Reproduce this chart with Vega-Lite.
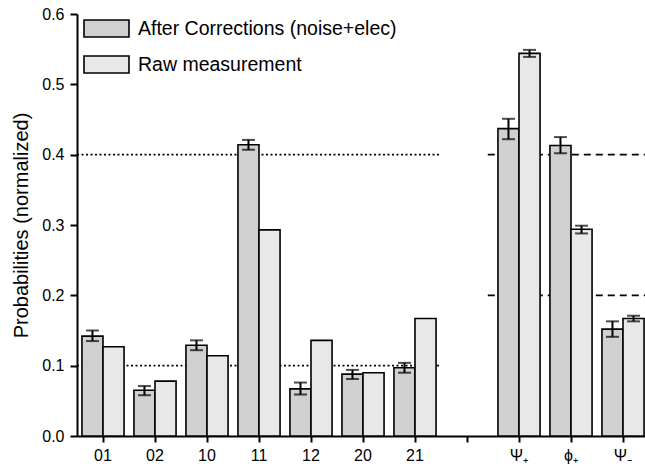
{
  "$schema": "https://vega.github.io/schema/vega-lite/v6.json",
  "autosize": "none",
  "padding": {"left": 77, "top": 14, "right": 0, "bottom": 36},
  "width": 568,
  "height": 422,
  "background": "white",
  "config": {
    "view": {"stroke": null},
    "font": "Liberation Sans",
    "axis": {"labelFont": "Liberation Sans", "titleFont": "Liberation Sans", "labelColor": "black", "titleColor": "black", "domainColor": "black", "tickColor": "black", "grid": false, "labelFontSize": 16, "tickWidth": 2, "domainWidth": 2},
    "axisX": {"labelPadding": 5, "tickSize": 6},
    "axisY": {"labelPadding": 6, "tickSize": 7},
    "legend": {"labelFont": "Liberation Sans"}
  },
  "datasets": {
    "bars": [
      {"cat": "01", "series": "After Corrections (noise+elec)", "value": 0.142, "lo": 0.135, "hi": 0.150},
      {"cat": "02", "series": "After Corrections (noise+elec)", "value": 0.065, "lo": 0.058, "hi": 0.071},
      {"cat": "10", "series": "After Corrections (noise+elec)", "value": 0.129, "lo": 0.122, "hi": 0.136},
      {"cat": "11", "series": "After Corrections (noise+elec)", "value": 0.414, "lo": 0.407, "hi": 0.421},
      {"cat": "12", "series": "After Corrections (noise+elec)", "value": 0.067, "lo": 0.059, "hi": 0.076},
      {"cat": "20", "series": "After Corrections (noise+elec)", "value": 0.088, "lo": 0.081, "hi": 0.094},
      {"cat": "21", "series": "After Corrections (noise+elec)", "value": 0.097, "lo": 0.090, "hi": 0.104},
      {"cat": "Ψ₊", "series": "After Corrections (noise+elec)", "value": 0.437, "lo": 0.422, "hi": 0.451},
      {"cat": "ϕ₊", "series": "After Corrections (noise+elec)", "value": 0.413, "lo": 0.402, "hi": 0.425},
      {"cat": "Ψ₋", "series": "After Corrections (noise+elec)", "value": 0.152, "lo": 0.141, "hi": 0.163},
      {"cat": "01", "series": "Raw measurement", "value": 0.127, "lo": null, "hi": null},
      {"cat": "02", "series": "Raw measurement", "value": 0.078, "lo": null, "hi": null},
      {"cat": "10", "series": "Raw measurement", "value": 0.114, "lo": null, "hi": null},
      {"cat": "11", "series": "Raw measurement", "value": 0.293, "lo": null, "hi": null},
      {"cat": "12", "series": "Raw measurement", "value": 0.136, "lo": null, "hi": null},
      {"cat": "20", "series": "Raw measurement", "value": 0.090, "lo": null, "hi": null},
      {"cat": "21", "series": "Raw measurement", "value": 0.167, "lo": null, "hi": null},
      {"cat": "Ψ₊", "series": "Raw measurement", "value": 0.544, "lo": 0.539, "hi": 0.549},
      {"cat": "ϕ₊", "series": "Raw measurement", "value": 0.294, "lo": 0.288, "hi": 0.299},
      {"cat": "Ψ₋", "series": "Raw measurement", "value": 0.167, "lo": 0.163, "hi": 0.171}
    ],
    "refs": [
      {"x0": 0, "x1": 7, "y": 0.4, "kind": "dotted"},
      {"x0": 0, "x1": 7, "y": 0.1, "kind": "dotted"},
      {"x0": 7.9, "x1": 11, "y": 0.4, "kind": "dashed"},
      {"x0": 7.9, "x1": 11, "y": 0.2, "kind": "dashed"}
    ]
  },
  "layer": [
    {
      "data": {"name": "refs"},
      "layer": [
        {
          "transform": [{"filter": "datum.kind == 'dotted'"}],
          "mark": {"type": "rule", "strokeDash": [2, 2.5], "strokeWidth": 1.8, "color": "black"},
          "encoding": {
            "x": {"field": "x0", "type": "quantitative", "scale": {"domain": [0, 11], "range": [0, 572], "nice": false, "zero": false}, "axis": null},
            "x2": {"field": "x1"},
            "y": {"field": "y", "type": "quantitative", "scale": {"domain": [0, 0.6], "nice": false}, "axis": null}
          }
        },
        {
          "transform": [{"filter": "datum.kind == 'dashed'"}],
          "mark": {"type": "rule", "strokeDash": [7, 5], "strokeWidth": 1.7, "color": "black"},
          "encoding": {
            "x": {"field": "x0", "type": "quantitative", "scale": {"domain": [0, 11], "range": [0, 572], "nice": false, "zero": false}, "axis": null},
            "x2": {"field": "x1"},
            "y": {"field": "y", "type": "quantitative", "scale": {"domain": [0, 0.6], "nice": false}, "axis": null}
          }
        }
      ]
    },
    {
      "data": {"name": "bars"},
      "layer": [
        {
          "mark": {"type": "bar", "stroke": "black", "strokeWidth": 1.6, "strokeJoin": "miter"},
          "encoding": {
            "x": {
              "field": "cat", "type": "nominal",
              "scale": {"domain": ["01", "02", "10", "11", "12", "20", "21", " ", "Ψ₊", "ϕ₊", "Ψ₋"], "range": [0, 572], "paddingInner": 0.19, "paddingOuter": 0.095},
              "axis": {"title": null, "labelAngle": 0, "labelFontSize": 16, "labelPadding": 5, "tickSize": 6, "labelColor": "black"}
            },
            "xOffset": {"field": "series", "type": "nominal", "scale": {"domain": ["After Corrections (noise+elec)", "Raw measurement"]}},
            "y": {
              "field": "value", "type": "quantitative",
              "scale": {"domain": [0, 0.6], "nice": false},
              "axis": {"orient": "left", "title": "Probabilities (normalized)", "titleFontSize": 20, "titleFontWeight": "normal", "titlePadding": 10,
                "values": [0, 0.05, 0.1, 0.15, 0.2, 0.25, 0.3, 0.35, 0.4, 0.45, 0.5, 0.55, 0.6],
                "labelExpr": "round(datum.value * 100) % 10 == 0 ? format(datum.value, '.1f') : ''",
                "tickSize": {"condition": {"test": "round(datum.value * 100) % 10 != 0", "value": 4}, "value": 7},
                "labelFontSize": 16, "labelPadding": 6}
            },
            "fill": {
              "field": "series", "type": "nominal",
              "scale": {"domain": ["After Corrections (noise+elec)", "Raw measurement"], "range": ["#d0d0d0", "#e8e8e8"]},
              "legend": {"title": null, "orient": "none", "legendX": 6, "legendY": -9, "labelFontSize": 19.5, "labelLimit": 500, "labelColor": "black", "symbolType": "M-1,-0.38H1V0.38H-1Z", "symbolSize": 2025, "symbolStrokeColor": "black", "symbolStrokeWidth": 1.6, "rowPadding": -19.5, "labelOffset": 8}
            }
          }
        },
        {
          "transform": [{"filter": "datum.lo != null"}],
          "mark": {"type": "rule", "strokeWidth": 2, "color": "black"},
          "encoding": {
            "x": {"field": "cat", "type": "nominal"},
            "xOffset": {"field": "series", "type": "nominal"},
            "y": {"field": "lo", "type": "quantitative"},
            "y2": {"field": "hi"}
          }
        },
        {
          "transform": [{"filter": "datum.lo != null"}],
          "mark": {"type": "tick", "thickness": 2, "size": 13, "color": "black"},
          "encoding": {
            "x": {"field": "cat", "type": "nominal"},
            "xOffset": {"field": "series", "type": "nominal"},
            "y": {"field": "lo", "type": "quantitative"}
          }
        },
        {
          "transform": [{"filter": "datum.lo != null"}],
          "mark": {"type": "tick", "thickness": 2, "size": 13, "color": "black"},
          "encoding": {
            "x": {"field": "cat", "type": "nominal"},
            "xOffset": {"field": "series", "type": "nominal"},
            "y": {"field": "hi", "type": "quantitative"}
          }
        }
      ]
    }
  ],
  "resolve": {"scale": {"x": "independent", "y": "independent"}, "axis": {"x": "independent", "y": "independent"}}
}
